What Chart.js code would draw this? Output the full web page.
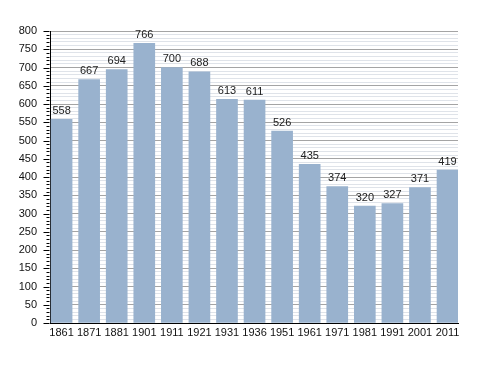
<!DOCTYPE html>
<html>
<head>
<meta charset="utf-8">
<script src="https://cdn.jsdelivr.net/npm/chart.js@4"></script>
<style>
  body { margin: 0; background: #fff; }
  #wrap { width: 488px; height: 373px; }
</style>
</head>
<body>
<div id="wrap"><canvas id="chart" width="488" height="373"></canvas></div>
<script>
const years = ["1861", "1871", "1881", "1901", "1911", "1921", "1931", "1936", "1951", "1961", "1971", "1981", "1991", "2001", "2011"];
const population = [558, 667, 694, 766, 700, 688, 613, 611, 526, 435, 374, 320, 327, 371, 419];
const yMax = 800;
const majorStep = 50;
const minorStep = 10;

const fontFamily = "'Liberation Sans', Arial, sans-serif";

// labels on top of each bar
const valueLabels = {
    id: 'valueLabels',
    afterDatasetsDraw(chart) {
        const ctx = chart.ctx;
        const meta = chart.getDatasetMeta(0);
        ctx.save();
        ctx.font = `11px ${fontFamily}`;
        ctx.fillStyle = '#222';
        ctx.textAlign = 'center';
        ctx.textBaseline = 'bottom';
        meta.data.forEach((bar, i) => {
            ctx.fillText(population[i], bar.x, bar.y - 3);
        });
        ctx.restore();
    }
};

// long ticks at the labelled values, short ones between
const yTicks = {
    id: 'yTicks',
    afterDraw(chart) {
        const ctx = chart.ctx;
        const y = chart.scales.y;
        const x0 = Math.round(chart.chartArea.left) - 0.5;
        ctx.save();
        ctx.strokeStyle = '#000';
        ctx.lineWidth = 1;
        ctx.beginPath();
        for (let v = 0; v <= yMax; v += minorStep) {
            const py = Math.round(y.getPixelForValue(v)) + 0.5;
            const len = v % majorStep === 0 ? 6 : 3;
            ctx.moveTo(x0 - len, py);
            ctx.lineTo(x0, py);
        }
        ctx.stroke();
        ctx.restore();
    }
};

const points = population.map((v, i) => ({ x: i, y: v }));

const ctx = document.getElementById('chart').getContext('2d');
new Chart(ctx, {
    type: 'bar',
    data: {
        datasets: [{
            data: points,
            backgroundColor: '#99b2ce',
            borderWidth: 0,
            barThickness: 21
        }]
    },
    options: {
        responsive: false,
        animation: false,
        layout: { padding: { left: 0, right: 30, top: 31, bottom: 28 } },
        plugins: { legend: { display: false }, tooltip: { enabled: false } },
        scales: {
            x: {
                type: 'linear',
                min: -0.42,
                max: 14.38,
                offset: false,
                grid: { display: false, drawTicks: false },
                border: { color: '#000', width: 1 },
                ticks: {
                    stepSize: 1,
                    includeBounds: false,
                    autoSkip: false,
                    maxRotation: 0,
                    color: '#111',
                    font: { family: fontFamily, size: 11 },
                    padding: 3,
                    callback: v => (Number.isInteger(v) ? years[v] : '')
                },
                afterFit(scale) { scale.height = 22; }
            },
            y: {
                min: 0,
                max: yMax,
                border: { color: '#000', width: 1 },
                grid: {
                    color: c => (c.tick.value % majorStep === 0 ? '#a4a4a4' : '#dfe3e9'),
                    drawTicks: false
                },
                ticks: {
                    stepSize: minorStep,
                    autoSkip: false,
                    color: '#111',
                    font: { family: fontFamily, size: 11 },
                    padding: 13,
                    callback: v => (v % majorStep === 0 ? v : '')
                },
                afterFit(scale) { scale.width = 50; }
            }
        }
    },
    plugins: [valueLabels, yTicks]
});
</script>
</body>
</html>
